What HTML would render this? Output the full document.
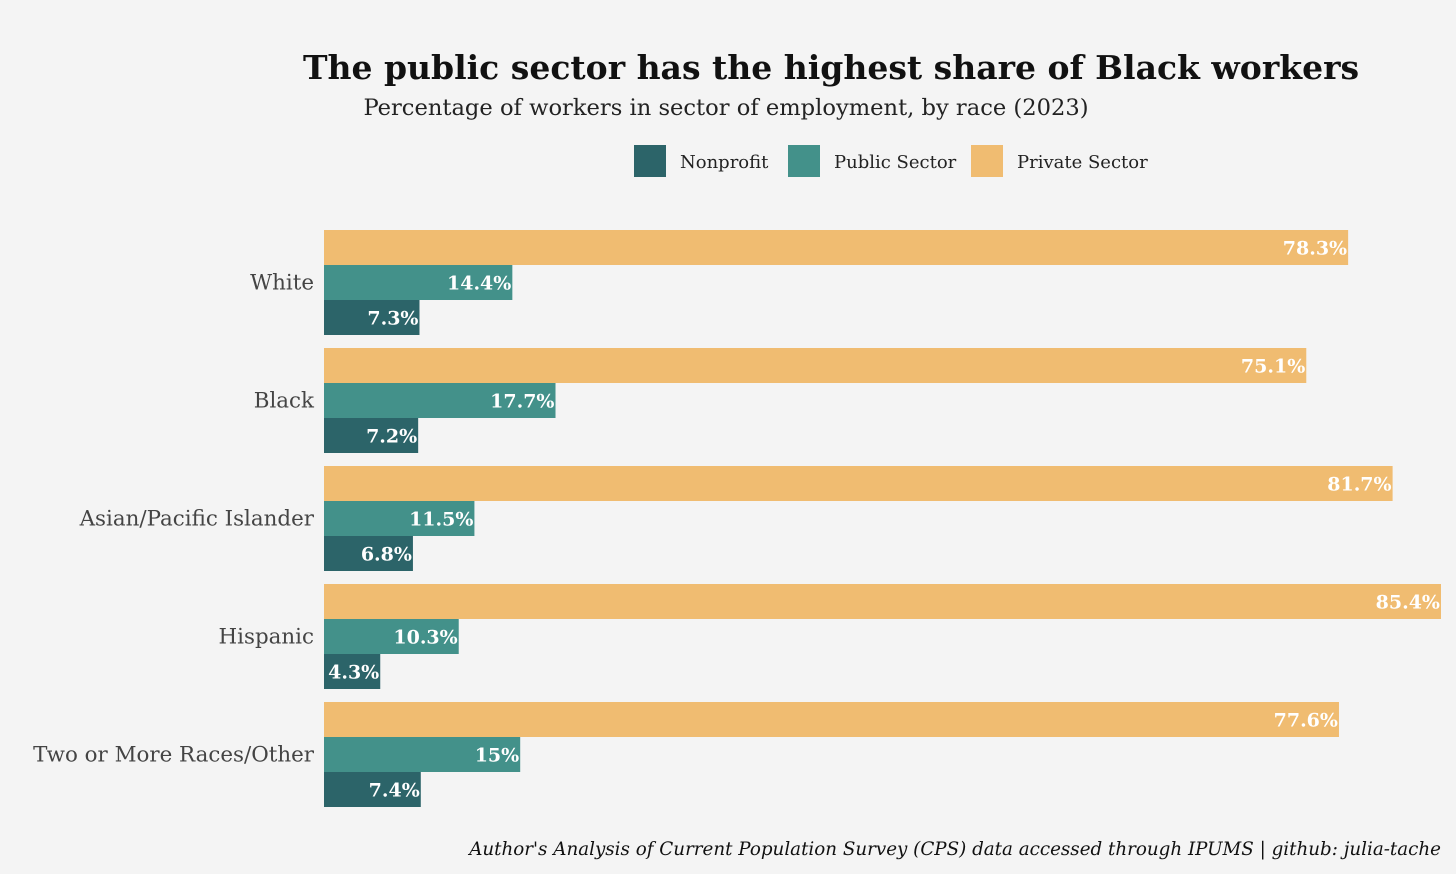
<!DOCTYPE html>
<html><head><meta charset="utf-8"><style>
body{margin:0;background:#f4f4f4;}
svg{display:block;font-family:"DejaVu Serif","Liberation Serif",serif;}
</style></head><body>
<svg id="chart" width="1456" height="874">
<rect width="1456" height="874" fill="#f4f4f4"/>
<text x="831" y="79" text-anchor="middle" font-size="33" font-weight="bold" fill="#111">The public sector has the highest share of Black workers</text>
<text x="726" y="115" text-anchor="middle" font-size="22.6" fill="#222">Percentage of workers in sector of employment, by race (2023)</text>
<g id="legend"></g>
<g id="bars"></g>
<text x="1441" y="855" text-anchor="end" font-size="18.3" font-style="italic" fill="#111">Author's Analysis of Current Population Survey (CPS) data accessed through IPUMS | github: julia-tache</text>
</svg>
<script>
const categories=["White","Black","Asian/Pacific Islander","Hispanic","Two or More Races/Other"];
const seriesNames=["Private Sector","Public Sector","Nonprofit"];
const privateVals=[78.3,75.1,81.7,85.4,77.6];
const publicVals=[14.4,17.7,11.5,10.3,15];
const nonprofitVals=[7.3,7.2,6.8,4.3,7.4];
const colors={"Nonprofit":"#2c6469","Public Sector":"#43918a","Private Sector":"#f0bc71"};
const NS="http://www.w3.org/2000/svg";
const x0=324, xMax=85.4, xPx=1441;
const xs=v=>x0+(v/xMax)*(xPx-x0);
const groupTop=i=>230+i*118;
const barH=35;
const g=document.getElementById('bars');
const all=[privateVals,publicVals,nonprofitVals];
function mk(t,a){const e=document.createElementNS(NS,t);for(const k in a)e.setAttribute(k,a[k]);return e;}
categories.forEach((c,i)=>{
  const lab=mk('text',{x:314,y:groupTop(i)+barH*1.5+7,'text-anchor':'end','font-size':21.4,fill:'#444'});
  
  
  lab.textContent=c;g.appendChild(lab);
  all.forEach((arr,s)=>{
    const y=groupTop(i)+s*barH;
    const r=mk('rect',{x:x0,y:y,width:xs(arr[i])-x0,height:barH,fill:colors[seriesNames[s]]});
    
    
    g.appendChild(r);
    const t=mk('text',{x:xs(arr[i])-1,y:y+barH/2+7,'text-anchor':'end','font-size':19,'font-weight':'bold',fill:'#fff'});
    
    
    t.textContent=arr[i]+"%";g.appendChild(t);
  });
});
const lg=document.getElementById('legend');
const legendItems=["Nonprofit","Public Sector","Private Sector"];
const lx=[634,788,971];
legendItems.forEach((n,k)=>{
  const r=mk('rect',{x:lx[k],y:145,width:32,height:32,fill:colors[n]});
  
  
  lg.appendChild(r);
  const t=mk('text',{x:lx[k]+46,y:168,'font-size':18,fill:'#222'});
  
  
  t.textContent=n;lg.appendChild(t);
});
</script>
</body></html>
